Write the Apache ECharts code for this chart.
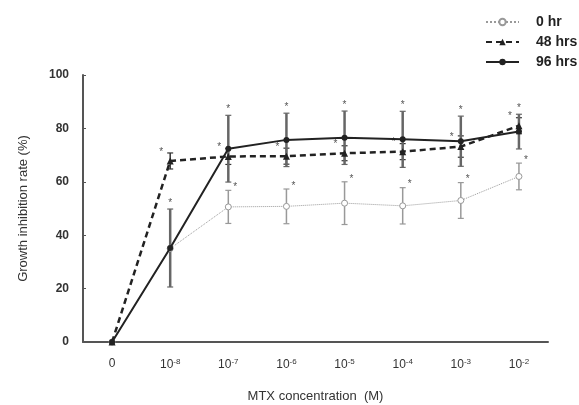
<!DOCTYPE html>
<html>
<head>
<meta charset="utf-8">
<script src="https://cdn.jsdelivr.net/npm/echarts@6/dist/echarts.min.js"></script>
<style>
  html, body { margin: 0; padding: 0; background: #fff; }
  #main { width: 579px; height: 405px; }
</style>
</head>
<body>
<div id="main"></div>
<script>
// x 轴：MTX 浓度（0 与 10 的指数）
var categories = ['0', '-8', '-7', '-6', '-5', '-4', '-3', '-2'];
var yTicks = [0, 20, 40, 60, 80, 100];

// 0 hr
var hr0 = [0, 35, 50.6, 50.8, 52, 51, 53, 62];
var hr0Err = [0, 0, 6.2, 6.5, 8, 6.8, 6.7, 5];
var hr0Star = ['', '', '*', '*', '*', '*', '*', '*'];
// 48 hrs
var hr48 = [0, 67.8, 69.5, 69.6, 70.7, 71.3, 73.2, 81];
var hr48Err = [0, 3, 3, 3, 2.8, 3, 4, 3];
var hr48Star = ['', '*', '*', '*', '*', '*', '*', '*'];
// 96 hrs
var hr96 = [0, 35.2, 72.4, 75.7, 76.5, 75.9, 75.2, 78.8];
var hr96Err = [0, 14.6, 12.5, 10, 10, 10.5, 9.4, 6.5];
var hr96Star = ['', '*', '*', '*', '*', '*', '*', '*'];

var font = 'Liberation Sans, Arial, sans-serif';

function errData(vals, errs) {
  var d = [];
  for (var i = 0; i < vals.length; i++) {
    d.push([i, vals[i], errs[i]]);
  }
  return d;
}

// 误差棒 + 星号
function errRender(color, width, stars, starPos) {
  return function (params, api) {
    var i = api.value(0);
    var v = api.value(1);
    var e = api.value(2);
    var top = api.coord([i, v + e]);
    var bot = api.coord([i, v - e]);
    var mid = api.coord([i, v]);
    var cap = 3;
    var children = [];
    if (e > 0) {
      children.push({ type: 'line', shape: { x1: top[0], y1: top[1], x2: bot[0], y2: bot[1] }, style: { stroke: color, lineWidth: width } });
      children.push({ type: 'line', shape: { x1: top[0] - cap, y1: top[1], x2: top[0] + cap, y2: top[1] }, style: { stroke: color, lineWidth: 1.2 } });
      children.push({ type: 'line', shape: { x1: bot[0] - cap, y1: bot[1], x2: bot[0] + cap, y2: bot[1] }, style: { stroke: color, lineWidth: 1.2 } });
    }
    var s = stars[params.dataIndex];
    if (s) {
      var tx, ty;
      if (starPos === 'top') { tx = top[0]; ty = top[1] - 6; }
      else if (starPos === 'right') { tx = top[0] + 7; ty = top[1] - 3; }
      else { tx = mid[0] - 9; ty = mid[1] - 9; }
      children.push({ type: 'text', style: { text: s, x: tx, y: ty, fill: '#555', font: '10px ' + font, align: 'center', verticalAlign: 'middle' } });
    }
    return { type: 'group', children: children };
  };
}

var chart = echarts.init(document.getElementById('main'));

var option = {
  animation: false,
  backgroundColor: '#fff',
  grid: { left: 83, right: 31, top: 75, bottom: 63, outerBoundsMode: 'none' },
  legend: {
    orient: 'vertical',
    left: 480,
    top: 10,
    itemWidth: 33,
    itemHeight: 8,
    itemGap: 6,
    textStyle: { color: '#222', fontSize: 14, fontWeight: 'bold', fontFamily: font, padding: [0, 0, 0, 12] },
    data: ['0 hr', '48 hrs', '96 hrs']
  },
  xAxis: {
    type: 'category',
    data: categories,
    boundaryGap: true,
    name: 'MTX concentration  (M)',
    nameLocation: 'middle',
    nameGap: 48,
    nameTextStyle: { color: '#333', fontSize: 13, fontFamily: font },
    axisLine: { lineStyle: { color: '#555', width: 2 } },
    axisTick: { alignWithLabel: true, inside: true, length: 3, interval: 0, lineStyle: { color: '#555' } },
    axisLabel: {
      margin: 16,
      interval: 0,
      color: '#333',
      fontFamily: font,
      fontSize: 12,
      formatter: function (v) {
        return v === '0' ? '{a|0}' : '{a|10}{b|' + v + '}';
      },
      rich: {
        a: { fontSize: 12, fontFamily: font, color: '#333' },
        b: { fontSize: 8, fontFamily: font, color: '#333', verticalAlign: 'top', padding: [0, 0, 6, 0] }
      }
    },
    splitLine: { show: false }
  },
  yAxis: {
    type: 'value',
    min: yTicks[0],
    max: yTicks[yTicks.length - 1],
    interval: 20,
    name: 'Growth inhibition rate (%)',
    nameLocation: 'middle',
    nameGap: 53,
    nameTextStyle: { color: '#333', fontSize: 13, fontFamily: font },
    axisLine: { show: true, lineStyle: { color: '#555', width: 2 } },
    axisTick: { show: true, inside: true, length: 3, lineStyle: { color: '#555' } },
    axisLabel: { margin: 14, color: '#333', fontSize: 12, fontFamily: font, fontWeight: 'bold' },
    splitLine: { show: false }
  },
  series: [
    {
      name: '0 hr', type: 'line', data: hr0, z: 3,
      symbol: 'circle', symbolSize: 6,
      itemStyle: { color: '#fff', borderColor: '#999', borderWidth: 1 },
      lineStyle: { color: '#999', width: 1, type: 'dotted' }
    },
    {
      name: '48 hrs', type: 'line', data: hr48, z: 4,
      symbol: 'triangle', symbolSize: 7,
      itemStyle: { color: '#222' },
      lineStyle: { color: '#222', width: 2.5, type: [6, 4] }
    },
    {
      name: '96 hrs', type: 'line', data: hr96, z: 5,
      symbol: 'circle', symbolSize: 6,
      itemStyle: { color: '#222' },
      lineStyle: { color: '#222', width: 2 }
    },
    {
      type: 'custom', name: 'err0', z: 2,
      renderItem: errRender('#999', 1.5, hr0Star, 'right'),
      data: errData(hr0, hr0Err)
    },
    {
      type: 'custom', name: 'err48', z: 2,
      renderItem: errRender('#333', 1.5, hr48Star, 'left'),
      data: errData(hr48, hr48Err)
    },
    {
      type: 'custom', name: 'err96', z: 2,
      renderItem: errRender('#666', 2.5, hr96Star, 'top'),
      data: errData(hr96, hr96Err)
    }
  ]
};

chart.setOption(option);
</script>
</body>
</html>
